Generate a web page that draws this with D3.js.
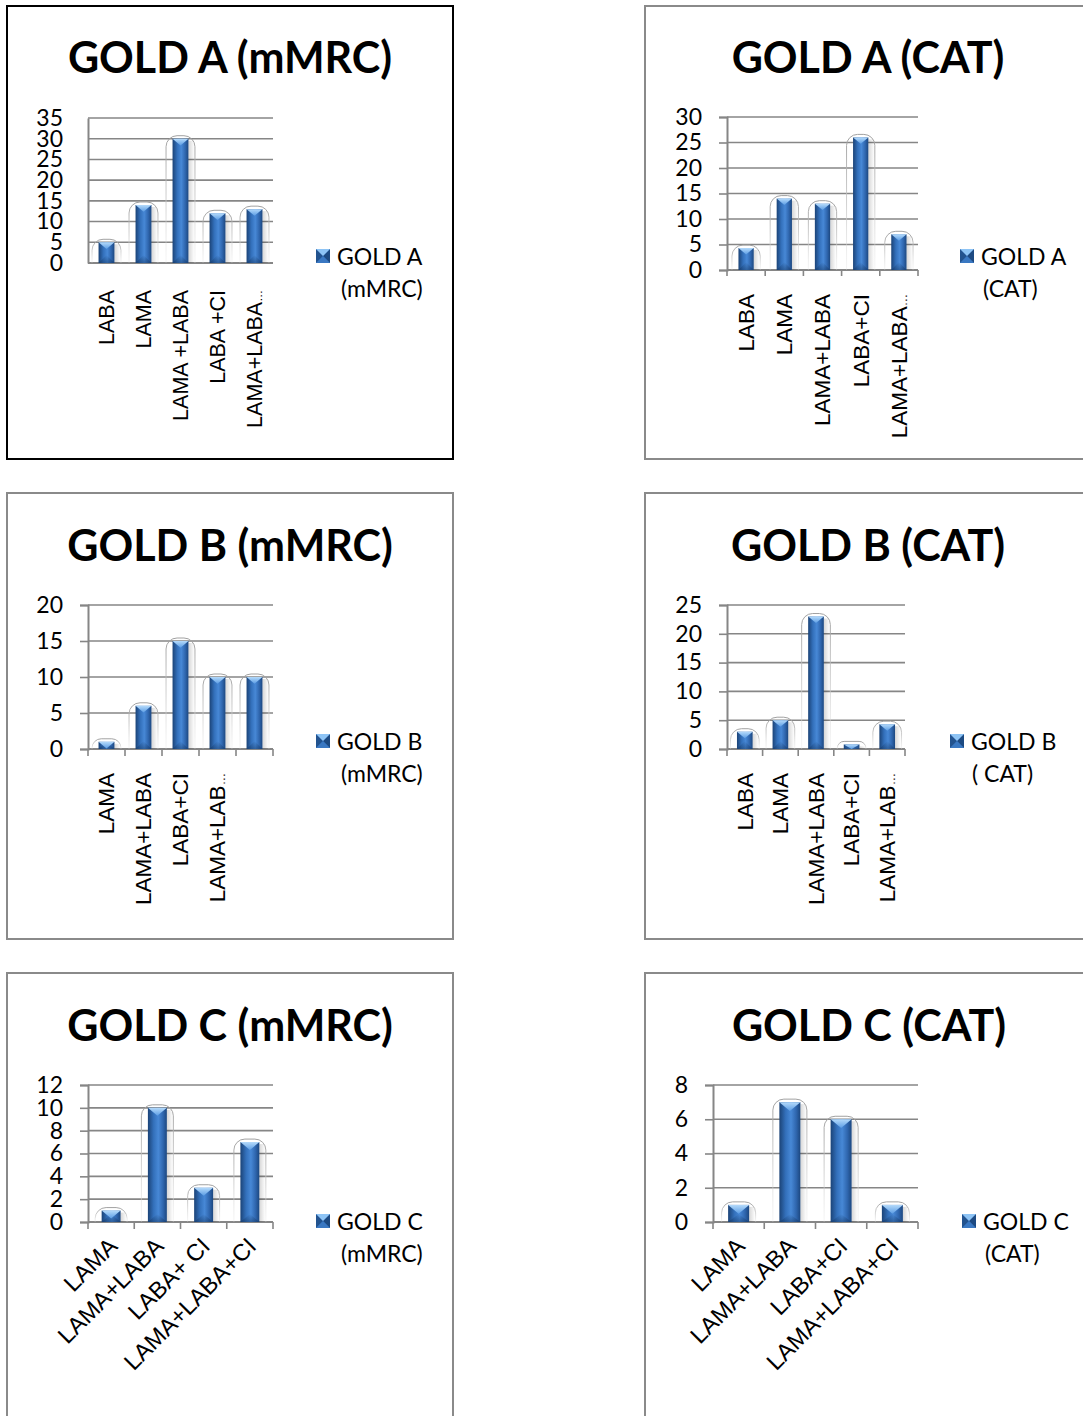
<!DOCTYPE html>
<html>
<head>
<meta charset="utf-8">
<script src="https://cdn.jsdelivr.net/npm/d3@7"></script>
<style>
  body { margin: 0; background: #fff; }
  svg { display: block; }
</style>
</head>
<body>
<svg id="chart" width="1083" height="1416"></svg>
<script>
// ---- Data ----
const goldAmMRCCategories = ["LABA", "LAMA", "LAMA +LABA", "LABA +CI", "LAMA+LABA…"];
const goldAmMRCValues = [5, 14, 30, 12, 13];
const goldAmMRCTicks = [0, 5, 10, 15, 20, 25, 30, 35];

const goldACATCategories = ["LABA", "LAMA", "LAMA+LABA", "LABA+CI", "LAMA+LABA…"];
const goldACATValues = [4.3, 14, 13, 26, 7];
const goldACATTicks = [0, 5, 10, 15, 20, 25, 30];

const goldBmMRCCategories = ["LAMA", "LAMA+LABA", "LABA+CI", "LAMA+LAB…", ""];
const goldBmMRCValues = [1, 6, 15, 10, 10];
const goldBmMRCTicks = [0, 5, 10, 15, 20];

const goldBCATCategories = ["LABA", "LAMA", "LAMA+LABA", "LABA+CI", "LAMA+LAB…"];
const goldBCATValues = [3, 5, 23, 0.8, 4.3];
const goldBCATTicks = [0, 5, 10, 15, 20, 25];

const goldCmMRCCategories = ["LAMA", "LAMA+LABA", "LABA+ CI", "LAMA+LABA+CI"];
const goldCmMRCValues = [1, 10, 3, 7];
const goldCmMRCTicks = [0, 2, 4, 6, 8, 10, 12];

const goldCCATCategories = ["LAMA", "LAMA+LABA", "LABA+CI", "LAMA+LABA+CI"];
const goldCCATValues = [1, 7, 6, 1];
const goldCCATTicks = [0, 2, 4, 6, 8];

// ---- Panel layout ----
const panels = [
  { title: "GOLD A (mMRC)", legend: ["GOLD A", "(mMRC)"],
    categories: goldAmMRCCategories, values: goldAmMRCValues, ticks: goldAmMRCTicks,
    frame: [7, 6, 446, 453], frameColor: "#000",
    plot: { left: 88, right: 273, top: 118, bottom: 263 },
    titleX: 230, titleY: 73, legendX: 316, legendY: 249, legendDx2: 4,
    angle: -90, labelGap: 27, labelSize: 21.5, yTick: 0, xTick: 0, barFrac: 0.43 },
  { title: "GOLD A (CAT)", legend: ["GOLD A", "(CAT)"],
    categories: goldACATCategories, values: goldACATValues, ticks: goldACATTicks,
    frame: [645, 6, 460, 453], frameColor: "#8a8a8a",
    plot: { left: 727, right: 918, top: 117, bottom: 270 },
    titleX: 868, titleY: 73, legendX: 960, legendY: 249, legendDx2: 2,
    angle: -90, labelGap: 24, labelSize: 22.5, yTick: 8, xTick: 6, barFrac: 0.4 },
  { title: "GOLD B (mMRC)", legend: ["GOLD B", "(mMRC)"],
    categories: goldBmMRCCategories, values: goldBmMRCValues, ticks: goldBmMRCTicks,
    frame: [7, 493, 446, 446], frameColor: "#8a8a8a",
    plot: { left: 88, right: 273, top: 605, bottom: 749 },
    titleX: 230, titleY: 561, legendX: 316, legendY: 734, legendDx2: 4,
    angle: -90, labelGap: 24, labelSize: 22.5, yTick: 8, xTick: 7, barFrac: 0.43 },
  { title: "GOLD B (CAT)", legend: ["GOLD B", "( CAT)"],
    categories: goldBCATCategories, values: goldBCATValues, ticks: goldBCATTicks,
    frame: [645, 493, 460, 446], frameColor: "#8a8a8a",
    plot: { left: 727, right: 905, top: 605, bottom: 749 },
    titleX: 868, titleY: 561, legendX: 950, legendY: 734, legendDx2: 1,
    angle: -90, labelGap: 24, labelSize: 22.5, yTick: 8, xTick: 7, barFrac: 0.44 },
  { title: "GOLD C (mMRC)", legend: ["GOLD C", "(mMRC)"],
    categories: goldCmMRCCategories, values: goldCmMRCValues, ticks: goldCmMRCTicks,
    frame: [7, 973, 446, 460], frameColor: "#8a8a8a",
    plot: { left: 88, right: 273, top: 1085, bottom: 1222 },
    titleX: 230, titleY: 1041, legendX: 316, legendY: 1214, legendDx2: 4,
    angle: -45, labelGap: 14, labelSize: 23.5, yTick: 8, xTick: 7, barFrac: 0.41 },
  { title: "GOLD C (CAT)", legend: ["GOLD C", "(CAT)"],
    categories: goldCCATCategories, values: goldCCATValues, ticks: goldCCATTicks,
    frame: [645, 973, 460, 460], frameColor: "#8a8a8a",
    plot: { left: 713, right: 918, top: 1085, bottom: 1222 },
    titleX: 869, titleY: 1041, legendX: 962, legendY: 1214, legendDx2: 2,
    angle: -45, labelGap: 14, labelSize: 23.5, yTick: 8, xTick: 7, barFrac: 0.41 }
];

const svg = d3.select("#chart");
svg.append("rect").attr("width", 1083).attr("height", 1416).attr("fill", "#fff");

// ---- Shared gradients ----
const defs = svg.append("defs");
function linear(id, x2, y2, stops) {
  const g = defs.append("linearGradient").attr("id", id)
    .attr("x1", 0).attr("y1", 0).attr("x2", x2).attr("y2", y2);
  stops.forEach(([o, c, a]) => g.append("stop").attr("offset", o)
    .attr("stop-color", c).attr("stop-opacity", a == null ? 1 : a));
}
linear("barBody", 1, 0, [[0, "#1b4377"], [0.3, "#3370bb"], [0.55, "#4788d6"], [0.8, "#2f66ae"], [1, "#1c477f"]]);
linear("barCap", 0, 1, [[0, "#b4dafb"], [1, "#5c9de4"]]);
linear("barBase", 0, 1, [[0, "#12325c", 0], [1, "#12325c", 0.45]]);
linear("halo", 0, 1, [[0, "#a0a0a0", 1], [0.5, "#c4c4c4", 0.8], [1, "#e0e0e0", 0.3]]);
linear("shade", 1, 0, [[0, "#000", 0.16], [1, "#000", 0]]);

const GRID = "#868686";
const FONT_UI = "Lato, 'Open Sans', sans-serif";
const FONT_LABEL = "'Liberation Sans', Arial, sans-serif";

panels.forEach(p => {
  const g = svg.append("g");
  const [fx, fy, fw, fh] = p.frame;
  g.append("rect").attr("x", fx).attr("y", fy).attr("width", fw).attr("height", fh)
    .attr("fill", "#fff").attr("stroke", p.frameColor).attr("stroke-width", 2);

  g.append("text").attr("x", p.titleX).attr("y", p.titleY)
    .attr("text-anchor", "middle").attr("font-family", FONT_UI)
    .attr("font-weight", 700).attr("font-size", 43).attr("fill", "#000")
    .text(p.title);

  const idx = d3.range(p.values.length);
  const x = d3.scaleBand().domain(idx).range([p.plot.left, p.plot.right]).padding(0);
  const y = d3.scaleLinear().domain([0, d3.max(p.ticks)]).range([p.plot.bottom, p.plot.top]);

  // horizontal gridlines
  g.append("g").selectAll("line").data(p.ticks.filter(t => t > 0)).join("line")
    .attr("x1", p.plot.left).attr("x2", p.plot.right)
    .attr("y1", d => y(d)).attr("y2", d => y(d))
    .attr("stroke", GRID).attr("stroke-width", 1.6);

  // y axis
  const yAxis = d3.axisLeft(y).tickValues(p.ticks).tickFormat(d3.format("d"))
    .tickSize(p.yTick).tickPadding(25 - p.yTick);
  const ya = g.append("g").attr("transform", `translate(${p.plot.left},0)`).call(yAxis);
  ya.select(".domain").attr("stroke", GRID).attr("stroke-width", 2);
  ya.selectAll(".tick line").attr("stroke", GRID).attr("stroke-width", 1.6);
  ya.selectAll(".tick text").attr("font-family", FONT_UI).attr("font-size", 23)
    .attr("fill", "#000");

  // x axis with category boundary ticks
  const xa = g.append("g").attr("transform", `translate(0,${p.plot.bottom})`);
  xa.append("line").attr("x1", p.plot.left).attr("x2", p.plot.right)
    .attr("stroke", GRID).attr("stroke-width", 2);
  if (p.xTick > 0) {
    const bounds = idx.map(i => x(i)).concat([p.plot.right]);
    xa.selectAll("line.bound").data(bounds).join("line").attr("class", "bound")
      .attr("x1", d => d).attr("x2", d => d).attr("y1", 0).attr("y2", p.xTick)
      .attr("stroke", GRID).attr("stroke-width", 1.6);
  }

  // bars
  const bw = x.bandwidth() * p.barFrac;
  const bars = g.append("g").selectAll("g").data(p.values).join("g");
  bars.each(function (v, i) {
    const b = d3.select(this);
    const bx = x(i) + (x.bandwidth() - bw) / 2;
    const by = y(v);
    const bh = y(0) - y(v);
    const base = y(0);
    // halo outline with rounded top
    const hx = bx - 6.5, hw = bw + 13, ht = by - 3;
    const r = Math.min(11, (base - ht) * 0.9, hw / 2);
    const halo = d3.path();
    halo.moveTo(hx, base);
    halo.lineTo(hx, ht + r);
    halo.arcTo(hx, ht, hx + r, ht, r);
    halo.lineTo(hx + hw - r, ht);
    halo.arcTo(hx + hw, ht, hx + hw, ht + r, r);
    halo.lineTo(hx + hw, base);
    b.append("path").attr("d", halo.toString()).attr("fill", "none")
      .attr("stroke", "url(#halo)").attr("stroke-width", 1);
    // soft shadow to the right of the bar
    b.append("rect").attr("x", bx + bw).attr("y", by + 2).attr("width", 6)
      .attr("height", Math.max(0, bh - 2)).attr("fill", "url(#shade)");
    // bar body
    b.append("rect").attr("x", bx).attr("y", by).attr("width", bw).attr("height", bh)
      .attr("fill", "url(#barBody)");
    // darker base shading
    const baseH = Math.min(bh, 8);
    b.append("polygon")
      .attr("points", `${bx},${base} ${bx + bw},${base} ${bx + bw / 2},${base - baseH}`)
      .attr("fill", "url(#barBase)");
    // light pyramid cap
    const capH = Math.min(bh, bw * 0.42);
    b.append("polygon")
      .attr("points", `${bx},${by} ${bx + bw},${by} ${bx + bw / 2},${by + capH}`)
      .attr("fill", "url(#barCap)");
  });

  // category labels; a trailing ellipsis is set small, as the truncation mark
  const labels = g.append("g").selectAll("text").data(p.categories).join("text")
    .attr("font-family", FONT_LABEL).attr("font-size", p.labelSize).attr("fill", "#000")
    .attr("text-anchor", "end")
    .attr("transform", (d, i) => {
      const cx = x(i) + x.bandwidth() / 2;
      return p.angle === -90
        ? `translate(${cx},${p.plot.bottom + p.labelGap}) rotate(-90)`
        : `translate(${cx - 4},${p.plot.bottom + p.labelGap}) rotate(-45)`;
    })
    .attr("dy", p.angle === -90 ? "0.35em" : "0.7em");
  labels.each(function (d) {
    const t = d3.select(this);
    if (d.endsWith("…")) {
      t.append("tspan").text(d.slice(0, -1));
      t.append("tspan").attr("font-size", "0.55em").text("…");
    } else {
      t.text(d);
    }
  });

  // legend
  const lg = g.append("g").attr("transform", `translate(${p.legendX},${p.legendY})`);
  const s = 14;
  lg.append("rect").attr("width", s).attr("height", s).attr("fill", "#2c62a8");
  lg.append("polygon").attr("points", `0,0 0,${s} ${s / 2},${s / 2}`).attr("fill", "#22538f");
  lg.append("polygon").attr("points", `${s},0 ${s},${s} ${s / 2},${s / 2}`).attr("fill", "#1d4a82");
  lg.append("polygon").attr("points", `0,${s} ${s},${s} ${s / 2},${s / 2}`).attr("fill", "#3a78c2");
  lg.append("polygon").attr("points", `0,0 ${s},0 ${s / 2},${s / 2}`).attr("fill", "#8ec4f5");
  lg.append("text").attr("x", 21).attr("y", 16).attr("font-family", FONT_UI)
    .attr("font-size", 23).attr("fill", "#000").text(p.legend[0]);
  lg.append("text").attr("x", 21 + p.legendDx2).attr("y", 48).attr("font-family", FONT_UI)
    .attr("font-size", 23).attr("fill", "#000").text(p.legend[1]);
});
</script>
</body>
</html>
